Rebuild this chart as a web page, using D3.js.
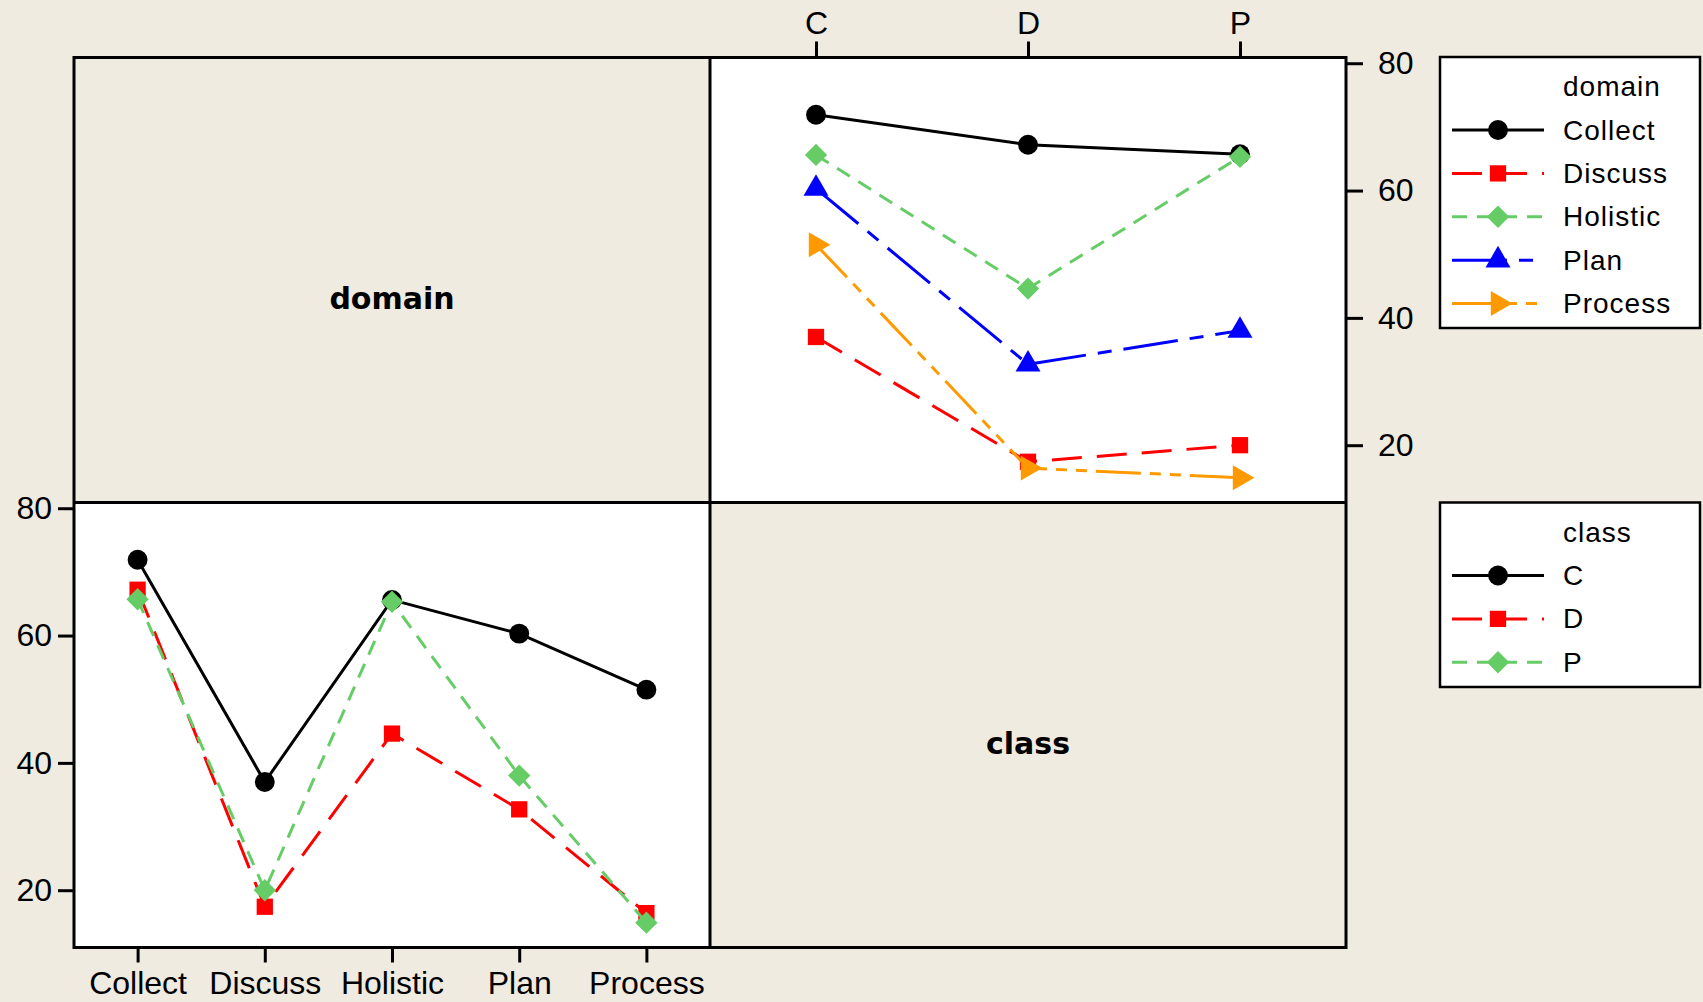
<!DOCTYPE html>
<html>
<head>
<meta charset="utf-8">
<script src="https://cdn.jsdelivr.net/npm/d3@7"></script>
<style>
  html, body { margin: 0; padding: 0; background: #EFEBE1; }
  svg { display: block; }
  .tick text { font-family: "Liberation Sans", Arial, sans-serif; font-size: 32px; fill: #000; }
  .legend text { font-family: "Liberation Sans", Arial, sans-serif; font-size: 28px; letter-spacing: 1px; fill: #000; }
  .panel-label { font-family: "DejaVu Sans", Verdana, sans-serif; font-weight: bold; font-size: 30px; fill: #000; }
</style>
</head>
<body>
<svg id="chart" width="1703" height="1002"></svg>
<script>
// Interaction plot of mean score: domain x class
const domains = ["Collect", "Discuss", "Holistic", "Plan", "Process"];
const classes = ["C", "D", "P"];

// cell means for each class, in the order of `domains`
const meanC = [71.9, 37.0, 65.6, 60.3, 51.5];
const meanD = [67.2, 17.4, 44.6, 32.7, 16.4];
const meanP = [65.7, 20.0, 65.3, 38.0, 14.9];

const yTicks = [20, 40, 60, 80];

const byClass = [meanC, meanD, meanP];

// line / marker styles
const styles = [
  { color: "#000000", dash: null,                   symbol: "circle" },
  { color: "#FF0000", dash: "30,15",                symbol: "square" },
  { color: "#66CC66", dash: "15,10",                symbol: "diamond" },
  { color: "#0000FF", dash: "55,12,14,12",          symbol: "triangleUp" },
  { color: "#FF9900", dash: "45,9,11,9,11,9",       symbol: "triangleRight" }
];

const bg = "#EFEBE1";
const svg = d3.select("#chart");

const L = 74, R = 1346, T = 57.5, B = 947.5, MX = 710, MY = 502.5;

function symbolPath(kind) {
  switch (kind) {
    case "circle": return { d: d3.symbol(d3.symbolCircle, 310)(), rot: 0 };
    case "square": return { d: d3.symbol(d3.symbolSquare, 265)(), rot: 0 };
    case "diamond": return { d: d3.symbol(d3.symbolSquare, 250)(), rot: 45 };
    case "triangleUp": return { d: d3.symbol(d3.symbolTriangle, 270)(), rot: 0 };
    case "triangleRight": return { d: d3.symbol(d3.symbolTriangle, 270)(), rot: 90 };
  }
}

function drawMarker(g, kind, color, x, y) {
  const s = symbolPath(kind);
  g.append("path")
    .attr("d", s.d)
    .attr("fill", color)
    .attr("transform", `translate(${x},${y}) rotate(${s.rot})`);
}

// panel backgrounds
svg.append("rect").attr("x", 0).attr("y", 0).attr("width", 1703).attr("height", 1002).attr("fill", bg);
svg.append("rect").attr("x", MX).attr("y", T).attr("width", R - MX).attr("height", MY - T).attr("fill", "#fff");
svg.append("rect").attr("x", L).attr("y", MY).attr("width", MX - L).attr("height", B - MY).attr("fill", "#fff");

// scales
const yTop = d3.scaleLinear().domain([11, 80.9]).range([MY, T]);
const yBot = d3.scaleLinear().domain([11, 80.9]).range([B, MY]);
const xClass = d3.scalePoint().domain(classes).range([MX, R]).padding(0.5);
const xDomain = d3.scalePoint().domain(domains).range([L, MX]).padding(0.5);

const lineTop = d3.line().x(d => xClass(d.k)).y(d => yTop(d.v));
const lineBot = d3.line().x(d => xDomain(d.k)).y(d => yBot(d.v));

// top-right panel: one line per domain across classes
const gTop = svg.append("g");
domains.forEach((dom, i) => {
  const pts = classes.map((c, j) => ({ k: c, v: byClass[j][i] }));
  const st = styles[i];
  gTop.append("path")
    .attr("d", lineTop(pts))
    .attr("fill", "none")
    .attr("stroke", st.color)
    .attr("stroke-width", 3)
    .attr("stroke-dasharray", st.dash);
  pts.forEach(p => drawMarker(gTop, st.symbol, st.color, xClass(p.k), yTop(p.v)));
});

// bottom-left panel: one line per class across domains
const gBot = svg.append("g");
classes.forEach((c, j) => {
  const pts = domains.map((dom, i) => ({ k: dom, v: byClass[j][i] }));
  const st = styles[j];
  gBot.append("path")
    .attr("d", lineBot(pts))
    .attr("fill", "none")
    .attr("stroke", st.color)
    .attr("stroke-width", 3)
    .attr("stroke-dasharray", st.dash);
  pts.forEach(p => drawMarker(gBot, st.symbol, st.color, xDomain(p.k), yBot(p.v)));
});

// axes
function styleAxis(g) {
  g.select(".domain").remove();
  g.selectAll(".tick line").attr("stroke", "#000").attr("stroke-width", 3);
}

svg.append("g")
  .attr("transform", `translate(0,${T})`)
  .call(d3.axisTop(xClass).tickSize(16).tickPadding(8))
  .call(styleAxis);

svg.append("g")
  .attr("transform", `translate(${R},0)`)
  .call(d3.axisRight(yTop).tickValues(yTicks).tickSize(17).tickPadding(15))
  .call(styleAxis);

svg.append("g")
  .attr("transform", `translate(${L},0)`)
  .call(d3.axisLeft(yBot).tickValues(yTicks).tickSize(16).tickPadding(6))
  .call(styleAxis);

svg.append("g")
  .attr("transform", `translate(0,${B})`)
  .call(d3.axisBottom(xDomain).tickSize(15).tickPadding(9))
  .call(styleAxis);

svg.selectAll(".tick text").attr("font-family", null).attr("font-size", null);

// panel frame
const frame = svg.append("g").attr("fill", "none").attr("stroke", "#000").attr("stroke-width", 3);
frame.append("rect").attr("x", L).attr("y", T).attr("width", R - L).attr("height", B - T);
frame.append("line").attr("x1", MX).attr("x2", MX).attr("y1", T).attr("y2", B);
frame.append("line").attr("x1", L).attr("x2", R).attr("y1", MY).attr("y2", MY);

// diagonal panel labels
svg.append("text").attr("class", "panel-label")
  .attr("x", (L + MX) / 2).attr("y", (T + MY) / 2 + 18)
  .attr("text-anchor", "middle").attr("dominant-baseline", "central")
  .text("domain");
svg.append("text").attr("class", "panel-label")
  .attr("x", (MX + R) / 2).attr("y", (MY + B) / 2 + 18)
  .attr("text-anchor", "middle").attr("dominant-baseline", "central")
  .text("class");

// legends
function legend(top, bottom, title, labels) {
  const g = svg.append("g").attr("class", "legend");
  g.append("rect")
    .attr("x", 1440).attr("y", top).attr("width", 260).attr("height", bottom - top)
    .attr("fill", "#fff").attr("stroke", "#000").attr("stroke-width", 2.5);
  const rowH = 43.4;
  const y0 = top + 29.6;
  g.append("text").attr("x", 1563).attr("y", y0).attr("dominant-baseline", "central").text(title);
  labels.forEach((lab, i) => {
    const y = y0 + rowH * (i + 1);
    const st = styles[i];
    g.append("line")
      .attr("x1", 1452).attr("x2", 1544).attr("y1", y).attr("y2", y)
      .attr("stroke", st.color).attr("stroke-width", 3)
      .attr("stroke-dasharray", st.dash);
    drawMarker(g, st.symbol, st.color, 1498, y);
    g.append("text").attr("x", 1563).attr("y", y).attr("dominant-baseline", "central").text(lab);
  });
}

legend(57, 328, "domain", domains);
legend(502.5, 687, "class", classes);
</script>
</body>
</html>
